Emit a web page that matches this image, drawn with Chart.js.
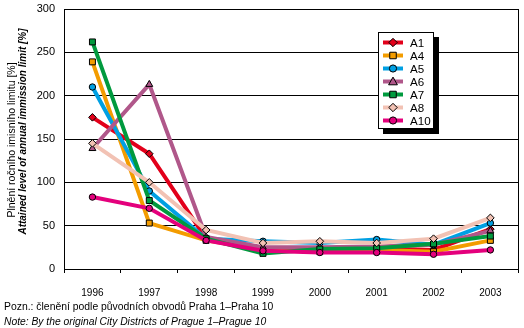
<!DOCTYPE html>
<html>
<head>
<meta charset="utf-8">
<script src="https://cdn.jsdelivr.net/npm/chart.js@4/dist/chart.umd.min.js"></script>
<style>
  html, body { margin: 0; padding: 0; background: #fff; }
  #wrap { width: 524px; height: 328px; position: relative; }
</style>
</head>
<body>
<div id="wrap"><canvas id="chart"></canvas></div>
<script>
// data
const years = ["1996", "1997", "1998", "1999", "2000", "2001", "2002", "2003"];
const yTicks = [0, 50, 100, 150, 200, 250, 300];

const a1  = [175, 133, 35, 24, 22, 24, 22, 46];
const a4  = [239, 53, 33, 22, 20, 22, 20, 33];
const a5  = [210, 90, 35, 32, 30, 34, 28, 53];
const a6  = [139, 213, 37, 25, 25, 26, 28, 44];
const a7  = [262, 79, 35, 18, 23, 24, 29, 38];
const a8  = [145, 100, 45, 30, 32, 30, 35, 59];
const a10 = [83, 70, 33, 21, 19, 19, 17, 22];

const names   = ["A1", "A4", "A5", "A6", "A7", "A8", "A10"];
const series  = [a1, a4, a5, a6, a7, a8, a10];
const colors  = ["#e2001a", "#f39c00", "#00a0e3", "#b0578a", "#009a3e", "#f2c2b4", "#e4007c"];
const markers = ["rectRot", "rect", "circle", "triangle", "rect", "rectRot", "circle"];
const radii   = { rectRot: 3.8, rect: 4.2, circle: 3.2, triangle: 4 };

const FONT = "Arial, 'Liberation Sans', sans-serif";

const datasets = series.map((vals, i) => ({
  label: names[i],
  data: vals,
  borderColor: colors[i],
  backgroundColor: colors[i],
  borderWidth: 4,
  pointStyle: markers[i],
  pointRadius: radii[markers[i]],
  pointBorderColor: "#000",
  pointBorderWidth: 1,
  pointBackgroundColor: colors[i],
  tension: 0,
  order: series.length - i
}));

function marker(ctx, style, r, x, y) {
  ctx.beginPath();
  if (style === "circle") {
    ctx.arc(x, y, r, 0, Math.PI * 2);
  } else if (style === "rect") {
    const s = r * Math.SQRT1_2;
    ctx.rect(x - s, y - s, 2 * s, 2 * s);
  } else if (style === "rectRot") {
    ctx.moveTo(x, y - r); ctx.lineTo(x + r, y); ctx.lineTo(x, y + r); ctx.lineTo(x - r, y);
    ctx.closePath();
  } else {
    ctx.moveTo(x, y - r); ctx.lineTo(x + r, y + r * 0.75); ctx.lineTo(x - r, y + r * 0.75);
    ctx.closePath();
  }
  ctx.fill();
  ctx.stroke();
}

// texts, frame, legend box drawn on top
const extras = {
  id: "extras",
  afterDraw(chart) {
    const ctx = chart.ctx;
    const area = chart.chartArea;
    ctx.save();

    // plot frame
    ctx.strokeStyle = "#000";
    ctx.lineWidth = 1;
    ctx.strokeRect(Math.round(area.left) + 0.5, Math.round(area.top) + 0.5,
      Math.round(area.right - area.left) - 1, Math.round(area.bottom - area.top));

    // y title (two lines)
    ctx.fillStyle = "#000";
    ctx.textAlign = "center";
    ctx.textBaseline = "middle";
    ctx.save();
    ctx.translate(12, 140);
    ctx.rotate(-Math.PI / 2);
    ctx.font = "10.5px " + FONT;
    ctx.fillText("Plnění ročního imisního limitu [%]", 0, 0);
    ctx.restore();
    ctx.save();
    ctx.translate(23, 131.5);
    ctx.rotate(-Math.PI / 2);
    ctx.font = "italic bold 10px " + FONT;
    ctx.fillText("Attained level of annual immission limit [%]", 0, 0);
    ctx.restore();

    // notes
    ctx.textAlign = "left";
    ctx.font = "10.4px " + FONT;
    ctx.fillText("Pozn.: členění podle původních obvodů Praha 1–Praha 10", 4, 307);
    ctx.font = "italic 10.3px " + FONT;
    ctx.fillText("Note: By the original City Districts of Prague 1–Prague 10", 4, 322);

    // legend
    const lx = 378, ly = 32, lw = 56, lh = 97;
    ctx.fillStyle = "#000";
    ctx.fillRect(lx + 5, ly + 5, lw, lh);
    ctx.fillStyle = "#fff";
    ctx.fillRect(lx, ly, lw, lh);
    ctx.strokeStyle = "#000";
    ctx.lineWidth = 1;
    ctx.strokeRect(lx + 0.5, ly + 0.5, lw - 1, lh - 1);
    chart.data.datasets.forEach((ds, i) => {
      const y = ly + 10.5 + i * 13;
      ctx.strokeStyle = ds.borderColor;
      ctx.lineWidth = 4;
      ctx.beginPath();
      ctx.moveTo(383, y);
      ctx.lineTo(403, y);
      ctx.stroke();
      ctx.fillStyle = ds.pointBackgroundColor;
      ctx.strokeStyle = "#000";
      ctx.lineWidth = 1;
      marker(ctx, ds.pointStyle, ds.pointRadius + 0.4, 393, y);
      ctx.fillStyle = "#000";
      ctx.font = "11.6px " + FONT;
      ctx.textAlign = "left";
      ctx.textBaseline = "middle";
      ctx.fillText(ds.label, 410, y + 1);
    });

    ctx.restore();
  }
};

const ctx = document.getElementById("chart").getContext("2d");
new Chart(ctx, {
  type: "line",
  data: { labels: years, datasets: datasets },
  options: {
    responsive: true,
    maintainAspectRatio: false,
    animation: false,
    layout: { padding: { left: 30, right: 5, top: 9, bottom: 0 } },
    plugins: {
      legend: { display: false },
      tooltip: { enabled: false }
    },
    scales: {
      x: {
        offset: true,
        grid: {
          offset: true,
          drawOnChartArea: false,
          drawTicks: true,
          tickLength: 4,
          color: "#000"
        },
        border: { color: "#000" },
        ticks: {
          color: "#000",
          font: { family: FONT, size: 10 },
          padding: 14,
          maxRotation: 0
        },
        afterFit(scale) {
          scale.height = 59;
          scale.paddingLeft = 0;
          scale.paddingRight = 0;
        }
      },
      y: {
        min: 0,
        max: 300,
        afterBuildTicks(scale) { scale.ticks = yTicks.map(v => ({ value: v })); },
        grid: { color: "#000", drawTicks: false, lineWidth: 1 },
        border: { color: "#000" },
        ticks: {
          color: "#000",
          font: { family: FONT, size: 11 },
          padding: 9
        },
        afterFit(scale) {
          scale.width = 34;
          scale.paddingTop = 0;
          scale.paddingBottom = 0;
        }
      }
    }
  },
  plugins: [extras]
});
</script>
</body>
</html>
